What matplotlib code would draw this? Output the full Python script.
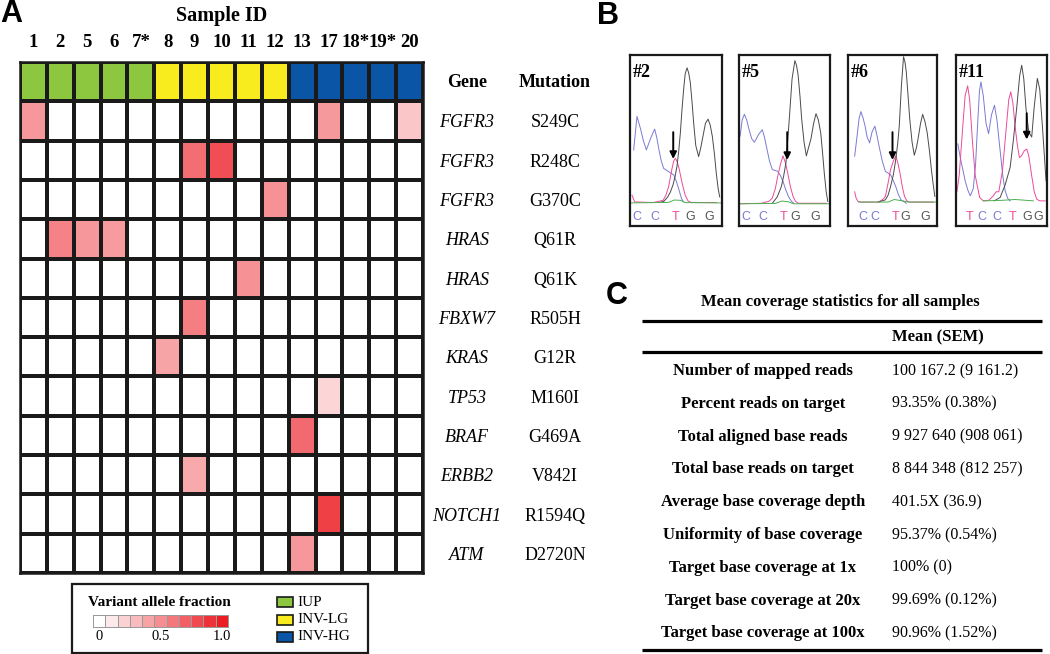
import matplotlib
matplotlib.use("Agg")
import matplotlib.pyplot as plt
import numpy as np
from matplotlib.colors import LinearSegmentedColormap, ListedColormap

W, H = 1050, 654
SERIF = "Liberation Serif"
SANS = "Liberation Sans"

# ---- panel A data ----
samples = ["1", "2", "5", "6", "7*", "8", "9", "10", "11", "12", "13", "17", "18*", "19*", "20"]
sample_groups = ["IUP"] * 5 + ["INV-LG"] * 5 + ["INV-HG"] * 5
group_names = ["IUP", "INV-LG", "INV-HG"]
group_colors = ["#8DC63F", "#F8EC1E", "#0B55A6"]

genes = ["FGFR3", "FGFR3", "FGFR3", "HRAS", "HRAS", "FBXW7", "KRAS", "TP53",
         "BRAF", "ERBB2", "NOTCH1", "ATM"]
mutations = ["S249C", "R248C", "G370C", "Q61R", "Q61K", "R505H", "G12R", "M160I",
             "G469A", "V842I", "R1594Q", "D2720N"]

# (mutation, sample, variant allele fraction) read from cell shading
vaf_hits = [
    ("S249C", "1", 0.46), ("S249C", "17", 0.45), ("S249C", "20", 0.25),
    ("R248C", "9", 0.64), ("R248C", "10", 0.78),
    ("G370C", "12", 0.48),
    ("Q61R", "2", 0.55), ("Q61R", "5", 0.46), ("Q61R", "6", 0.44),
    ("Q61K", "11", 0.48),
    ("R505H", "9", 0.57),
    ("G12R", "8", 0.40),
    ("M160I", "17", 0.18),
    ("G469A", "13", 0.66),
    ("V842I", "9", 0.38),
    ("R1594Q", "17", 0.84),
    ("D2720N", "13", 0.46),
]

legend_levels = [0.0, 0.1, 0.2, 0.3, 0.4, 0.5, 0.6, 0.7, 0.8, 0.9, 1.0]
legend_ticks = ["0", "0.5", "1.0"]
legend_tick_levels = [0.0, 0.5, 1.0]

# ---- panel B chromatogram traces, (x, y) read inside each box (0..1) ----
s2_blue = [(0.04, 0.445), (0.076, 0.641), (0.112, 0.573), (0.145, 0.50), (0.178, 0.445),
           (0.225, 0.514), (0.268, 0.567), (0.29, 0.52), (0.315, 0.445), (0.34, 0.38),
           (0.366, 0.337), (0.42, 0.318), (0.475, 0.298), (0.505, 0.26), (0.533, 0.21),
           (0.56, 0.16), (0.583, 0.141)]
s2_pink = [(0.022, 0.18), (0.05, 0.141), (0.25, 0.137), (0.36, 0.15), (0.39, 0.18),
           (0.42, 0.23), (0.44, 0.29), (0.457, 0.337), (0.475, 0.38), (0.493, 0.396),
           (0.513, 0.375), (0.533, 0.337), (0.555, 0.28), (0.576, 0.23), (0.60, 0.18),
           (0.63, 0.147), (0.667, 0.137), (0.94, 0.137)]
s2_black = [(0.32, 0.137), (0.37, 0.145), (0.41, 0.17), (0.44, 0.20), (0.467, 0.24),
            (0.49, 0.29), (0.51, 0.347), (0.53, 0.44), (0.547, 0.543), (0.565, 0.68),
            (0.583, 0.798), (0.60, 0.89), (0.62, 0.925), (0.638, 0.895), (0.656, 0.837),
            (0.675, 0.72), (0.692, 0.602), (0.715, 0.47), (0.746, 0.406), (0.77, 0.46),
            (0.793, 0.524), (0.82, 0.6), (0.848, 0.625), (0.872, 0.59), (0.895, 0.524),
            (0.918, 0.42), (0.938, 0.308), (0.958, 0.22), (0.975, 0.17)]
s2_green = [(0.0, 0.135), (0.42, 0.138), (0.48, 0.152), (0.55, 0.15), (0.6, 0.137), (1.0, 0.135)]

s5_blue = [(0.012, 0.525), (0.035, 0.62), (0.059, 0.653), (0.085, 0.62), (0.11, 0.565),
           (0.14, 0.51), (0.169, 0.49), (0.195, 0.515), (0.217, 0.537), (0.256, 0.563),
           (0.28, 0.52), (0.307, 0.45), (0.335, 0.38), (0.366, 0.33), (0.425, 0.32),
           (0.455, 0.295), (0.484, 0.26), (0.515, 0.21), (0.543, 0.173), (0.575, 0.145),
           (0.602, 0.133)]
s5_pink = [(0.012, 0.13), (0.248, 0.133), (0.33, 0.145), (0.366, 0.163), (0.40, 0.22),
           (0.425, 0.29), (0.455, 0.36), (0.484, 0.41), (0.51, 0.37), (0.535, 0.31),
           (0.565, 0.23), (0.594, 0.173), (0.62, 0.145), (0.65, 0.133), (0.957, 0.133)]
s5_black = [(0.366, 0.133), (0.42, 0.17), (0.465, 0.23), (0.49, 0.29), (0.516, 0.37),
            (0.535, 0.5), (0.555, 0.643), (0.583, 0.86), (0.614, 0.967), (0.632, 0.94),
            (0.65, 0.88), (0.67, 0.76), (0.689, 0.624), (0.715, 0.49), (0.74, 0.41),
            (0.765, 0.46), (0.791, 0.51), (0.82, 0.6), (0.846, 0.657), (0.872, 0.62),
            (0.898, 0.545), (0.918, 0.43), (0.937, 0.31), (0.958, 0.2), (0.976, 0.143)]
s5_green = [(0.0, 0.13), (0.40, 0.132), (0.47, 0.146), (0.54, 0.142), (0.6, 0.13), (1.0, 0.13)]

s6_blue = [(0.075, 0.408), (0.106, 0.545), (0.125, 0.63), (0.145, 0.669), (0.17, 0.63),
           (0.192, 0.584), (0.215, 0.52), (0.243, 0.486), (0.27, 0.55), (0.302, 0.584),
           (0.325, 0.53), (0.349, 0.467), (0.385, 0.38), (0.42, 0.32), (0.478, 0.30),
           (0.505, 0.27), (0.537, 0.23), (0.565, 0.185), (0.596, 0.153), (0.655, 0.133)]
s6_pink = [(0.075, 0.2), (0.09, 0.165), (0.11, 0.145), (0.145, 0.14), (0.341, 0.14),
           (0.39, 0.155), (0.42, 0.173), (0.45, 0.25), (0.478, 0.33), (0.51, 0.38),
           (0.537, 0.41), (0.56, 0.37), (0.584, 0.31), (0.61, 0.23), (0.635, 0.173),
           (0.66, 0.148), (0.686, 0.14), (0.96, 0.14)]
s6_black = [(0.341, 0.14), (0.42, 0.153), (0.45, 0.18), (0.478, 0.23), (0.51, 0.3),
            (0.537, 0.39), (0.558, 0.48), (0.576, 0.584), (0.6, 0.82), (0.624, 0.99),
            (0.64, 0.96), (0.655, 0.9), (0.675, 0.76), (0.694, 0.624), (0.72, 0.49),
            (0.745, 0.414), (0.77, 0.46), (0.792, 0.525), (0.815, 0.6), (0.839, 0.653),
            (0.865, 0.61), (0.89, 0.545), (0.915, 0.44), (0.937, 0.33), (0.958, 0.24),
            (0.976, 0.173)]
s6_green = [(0.12, 0.14), (0.45, 0.14), (0.52, 0.155), (0.6, 0.148), (0.68, 0.14), (1.0, 0.14)]

s11_blue = [(0.02, 0.48), (0.047, 0.40), (0.075, 0.33), (0.10, 0.265), (0.13, 0.21),
            (0.157, 0.176), (0.19, 0.22), (0.215, 0.36), (0.24, 0.62), (0.258, 0.79),
            (0.274, 0.843), (0.30, 0.76), (0.33, 0.60), (0.358, 0.54), (0.39, 0.65),
            (0.423, 0.706), (0.45, 0.62), (0.485, 0.44), (0.515, 0.29), (0.54, 0.206),
            (0.57, 0.16), (0.595, 0.147)]
s11_pink = [(0.01, 0.20), (0.036, 0.30), (0.07, 0.55), (0.10, 0.76), (0.128, 0.82),
            (0.15, 0.74), (0.18, 0.50), (0.21, 0.30), (0.23, 0.245), (0.26, 0.167),
            (0.30, 0.147), (0.36, 0.15), (0.41, 0.176), (0.44, 0.20), (0.47, 0.20),
            (0.51, 0.32), (0.55, 0.56), (0.58, 0.74), (0.602, 0.784), (0.625, 0.72),
            (0.65, 0.58), (0.675, 0.47), (0.697, 0.40), (0.72, 0.41), (0.75, 0.44),
            (0.777, 0.45), (0.80, 0.41), (0.83, 0.30), (0.86, 0.20), (0.887, 0.157),
            (0.92, 0.147), (0.98, 0.147)]
s11_black = [(0.42, 0.147), (0.485, 0.167), (0.54, 0.24), (0.595, 0.343), (0.63, 0.50),
             (0.668, 0.696), (0.70, 0.88), (0.722, 0.94), (0.745, 0.86), (0.77, 0.68),
             (0.80, 0.55), (0.832, 0.52), (0.86, 0.70), (0.894, 0.863), (0.92, 0.80),
             (0.95, 0.58), (0.975, 0.38), (0.989, 0.265)]
s11_green = [(0.30, 0.147), (0.50, 0.15), (0.65, 0.155), (0.85, 0.147)]

chrom_labels = ["#2", "#5", "#6", "#11"]
chrom_traces = [
    (s2_blue, s2_pink, s2_black, s2_green),
    (s5_blue, s5_pink, s5_black, s5_green),
    (s6_blue, s6_pink, s6_black, s6_green),
    (s11_blue, s11_pink, s11_black, s11_green),
]
chrom_bases = [["C", "C", "T", "G", "G"], ["C", "C", "T", "G", "G"],
               ["C", "C", "T", "G", "G"], ["T", "C", "C", "T", "G", "G"]]
chrom_base_pos = [[0.076, 0.27, 0.49, 0.656, 0.86], [0.075, 0.264, 0.484, 0.622, 0.839],
                  [0.165, 0.30, 0.53, 0.64, 0.87], [0.146, 0.285, 0.449, 0.62, 0.785, 0.905]]
arrow_x = [0.47, 0.53, 0.50, 0.777]
arrow_top = [0.565, 0.565, 0.565, 0.676]
arrow_tip = [0.376, 0.37, 0.37, 0.49]

# ---- panel C data ----
stat_names = ["Number of mapped reads", "Percent reads on target", "Total aligned base reads",
              "Total base reads on target", "Average base coverage depth",
              "Uniformity of base coverage", "Target base coverage at 1x",
              "Target base coverage at 20x", "Target base coverage at 100x"]
stat_values = ["100 167.2 (9 161.2)", "93.35% (0.38%)", "9 927 640 (908 061)",
               "8 844 348 (812 257)", "401.5X (36.9)", "95.37% (0.54%)", "100% (0)",
               "99.69% (0.12%)", "90.96% (1.52%)"]

trace_colors = {"blue": "#7A7AD4", "pink": "#EC4A98", "black": "#4A4A4A", "green": "#4CAF50"}
base_colors = {"C": "#7A7AD4", "T": "#EC4A98", "G": "#555555"}


def px_rect(l, t, r, b):
    return [l / W, 1 - b / H, (r - l) / W, (b - t) / H]


fig = plt.figure(figsize=(W / 100, H / 100), dpi=100)
canvas = fig.add_axes([0, 0, 1, 1])
canvas.set_xlim(0, W)
canvas.set_ylim(H, 0)
canvas.axis("off")

# panel letters
for letter, x, y in [("A", 0, 14), ("B", 597, 16), ("C", 606, 296)]:
    canvas.text(x, y, letter, fontfamily=SANS, fontweight="bold", fontsize=22,
                va="center", ha="left")

# ---- panel A heatmap ----
vaf_cmap = LinearSegmentedColormap.from_list("vaf", ["#FFFFFF", "#EC1C24"])
vaf = np.zeros((len(mutations), len(samples)))
for mut, smp, val in vaf_hits:
    vaf[mutations.index(mut), samples.index(smp)] = val
group_idx = np.array([[group_names.index(g) for g in sample_groups]])

axA = fig.add_axes(px_rect(20, 62, 423, 573))
n_rows = len(mutations) + 1
axA.pcolormesh(np.arange(len(samples) + 1), [0, 1], group_idx,
               cmap=ListedColormap(group_colors), vmin=-0.5, vmax=2.5,
               edgecolors="#1A1A1A", linewidth=1.5)
axA.pcolormesh(np.arange(len(samples) + 1), np.arange(1, n_rows + 1), vaf,
               cmap=vaf_cmap, vmin=0, vmax=1, edgecolors="#1A1A1A", linewidth=1.5)
axA.set_xlim(0, len(samples))
axA.set_ylim(n_rows, 0)
axA.set_xticks([])
axA.set_yticks([])
for sp in axA.spines.values():
    sp.set_linewidth(1.8)
    sp.set_color("#1A1A1A")

row_px = 511 / n_rows
for i, s in enumerate(samples):
    axA.text(i + 0.5, -(62 - 43) / row_px, s, ha="center", va="center",
             fontfamily=SERIF, fontweight="bold", fontsize=13.5, clip_on=False)
axA.text(len(samples) / 2, -(62 - 16) / row_px, "Sample ID", ha="center", va="center",
         fontfamily=SERIF, fontweight="bold", fontsize=14.5, clip_on=False)

col_px = 403 / len(samples)
gene_x = (467 - 20) / col_px
mut_x = (555 - 20) / col_px
axA.text(gene_x, 0.52, "Gene", ha="center", va="center", fontfamily=SERIF,
         fontweight="bold", fontsize=13, clip_on=False)
axA.text(mut_x, 0.52, "Mutation", ha="center", va="center", fontfamily=SERIF,
         fontweight="bold", fontsize=13, clip_on=False)
for j, (g, m) in enumerate(zip(genes, mutations)):
    axA.text(gene_x, j + 1.55, g, ha="center", va="center", fontfamily=SERIF,
             style="italic", fontsize=13, clip_on=False)
    axA.text(mut_x, j + 1.55, m, ha="center", va="center", fontfamily=SERIF,
             fontsize=13, clip_on=False)

# ---- legend box ----
canvas.add_patch(plt.Rectangle((72, 584), 296, 69, fill=False, lw=1.6, ec="#1A1A1A"))
canvas.text(88, 603, "Variant allele fraction", fontfamily=SERIF, fontweight="bold",
            fontsize=11, va="center", ha="left")
cell_w = 135 / len(legend_levels)
cb_x = 93 + cell_w * np.arange(len(legend_levels) + 1)
canvas.pcolormesh(cb_x, [615, 627], np.array([legend_levels]), cmap=vaf_cmap,
                  vmin=0, vmax=1, edgecolors="#9A9A9A", linewidth=0.6)
for lab, lv in zip(legend_ticks, legend_tick_levels):
    canvas.text(93 + cell_w * (legend_levels.index(lv) + 0.5), 636, lab, fontfamily=SERIF,
                fontsize=10.5, ha="center", va="center")
for k, (gname, gcol) in enumerate(zip(group_names, group_colors)):
    y = 602 + k * 17.5
    canvas.add_patch(plt.Rectangle((277, y - 5), 16, 10, fc=gcol, ec="#1A1A1A", lw=1.2))
    canvas.text(297, y, gname, fontfamily=SERIF, fontsize=11, va="center", ha="left")

# ---- panel B chromatograms ----
boxes = [(630, 55, 722, 226), (739, 55, 830, 226), (848, 55, 937, 226), (956, 55, 1047, 226)]
for b, box in enumerate(boxes):
    ax = fig.add_axes(px_rect(*box))
    ax.set_xlim(0, 1)
    ax.set_ylim(0, 1)
    ax.set_xticks([])
    ax.set_yticks([])
    for sp in ax.spines.values():
        sp.set_linewidth(1.6)
        sp.set_color("#1A1A1A")
    for name, tr in zip(["blue", "pink", "black", "green"], chrom_traces[b]):
        xs, ys = zip(*tr)
        ax.plot(xs, ys, color=trace_colors[name], lw=0.7)
    for base, bx in zip(chrom_bases[b], chrom_base_pos[b]):
        ax.text(bx, 0.055, base, color=base_colors[base], fontfamily=SANS,
                fontsize=9, ha="center", va="center")
    ax.annotate("", xy=(arrow_x[b], arrow_tip[b]), xytext=(arrow_x[b], arrow_top[b]),
                arrowprops=dict(arrowstyle="-|>", color="black", lw=1.4, mutation_scale=10))
    ax.text(0.03, 0.95, chrom_labels[b], fontfamily=SERIF, fontweight="bold",
            fontsize=13, ha="left", va="top")

# ---- panel C table ----
canvas.text(840, 302, "Mean coverage statistics for all samples", fontfamily=SERIF,
            fontweight="bold", fontsize=12, ha="center", va="center")
for yl in [321, 352, 650]:
    canvas.plot([642, 1042], [yl, yl], color="black", lw=2.3, solid_capstyle="butt")
canvas.text(938, 337, "Mean (SEM)", fontfamily=SERIF, fontweight="bold", fontsize=12,
            ha="center", va="center")
for i, (nm, val) in enumerate(zip(stat_names, stat_values)):
    y = 371 + i * 32.8
    canvas.text(763, y, nm, fontfamily=SERIF, fontweight="bold", fontsize=12,
                ha="center", va="center")
    canvas.text(892, y, val, fontfamily=SERIF, fontsize=11.5, ha="left", va="center")

fig.savefig("out.png", dpi=100)
